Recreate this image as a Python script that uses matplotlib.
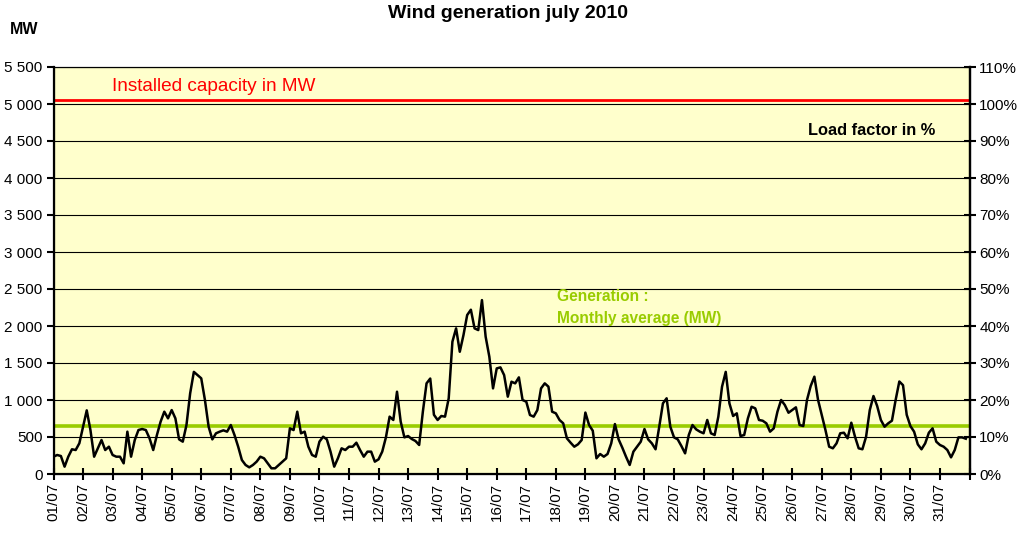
import matplotlib.pyplot as plt
import numpy as np

plt.rcParams["font.family"] = ["Liberation Sans", "DejaVu Sans"]

# wind output in MW, one reading every 3 hours (8 per day)
wind_mw = [
    234, 257, 243, 99, 234, 334, 324, 415,  # 01/07
    639, 860, 594, 234, 347, 459, 324, 369,  # 02/07
    257, 234, 234, 144, 572, 234, 459, 594,  # 03/07
    608, 594, 482, 324, 527, 707, 842, 752,  # 04/07
    864, 752, 468, 437, 662, 1090, 1380, 1337,  # 05/07
    1293, 1000, 639, 468, 550, 572, 590, 572,  # 06/07
    662, 527, 369, 189, 122, 90, 122, 167,  # 07/07
    234, 212, 144, 77, 77, 122, 167, 212,  # 08/07
    617, 594, 842, 550, 572, 369, 257, 234,  # 09/07
    437, 504, 468, 302, 99, 212, 347, 324,  # 10/07
    369, 369, 423, 324, 234, 302, 302, 167,  # 11/07
    198, 302, 495, 775, 730, 1112, 707, 495,  # 12/07
    513, 473, 446, 392, 842, 1225, 1290, 800,  # 13/07
    730, 784, 775, 1023, 1788, 1968, 1652, 1878,  # 14/07
    2148, 2220, 1968, 1945, 2350, 1855, 1585, 1157,  # 15/07
    1427, 1441, 1337, 1045, 1247, 1225, 1306, 1000,  # 16/07
    977, 797, 775, 864, 1157, 1225, 1180, 842,  # 17/07
    820, 730, 685, 482, 423, 369, 401, 459,  # 18/07
    830, 662, 585, 212, 270, 234, 270, 414,  # 19/07
    675, 468, 356, 234, 122, 302, 369, 437,  # 20/07
    608, 468, 414, 334, 639, 955, 1023, 639,  # 21/07
    495, 468, 378, 279, 527, 662, 603, 572,  # 22/07
    550, 730, 550, 527, 775, 1180, 1380, 955,  # 23/07
    784, 820, 513, 527, 752, 909, 887, 730,  # 24/07
    720, 685, 572, 617, 842, 1000, 932, 828,  # 25/07
    864, 901, 662, 648, 1000, 1189, 1315, 1000,  # 26/07
    797, 594, 369, 347, 414, 550, 558, 482,  # 27/07
    693, 504, 347, 334, 504, 864, 1054, 919,  # 28/07
    730, 639, 685, 720, 1000, 1250, 1200, 800,  # 29/07
    648, 572, 401, 334, 414, 558, 617, 437,  # 30/07
    392, 369, 324, 225, 324, 495, 495, 477,  # 31/07
]
step_hours = 3
installed_mw = 5050
monthly_avg_mw = 650
day_labels = [f"{d:02d}/07" for d in range(1, 32)]
mw_ticks = list(range(0, 5501, 500))
pct_ticks = list(range(0, 111, 10))

W, H = 1027, 533
fig = plt.figure(figsize=(W / 100, H / 100), dpi=100)
ax = fig.add_axes([53.5 / W, 1 - 474 / H, 916 / W, 407 / H])
ax.set_facecolor("#FFFFCC")

hours = np.arange(len(wind_mw)) * step_hours
ax.set_xlim(0, 31 * 24)
ax.set_ylim(0, 5500)

ax.yaxis.grid(True, color="black", lw=0.8)
ax.set_axisbelow(True)
ax.axhline(monthly_avg_mw, color="#99CC00", lw=2.6, zorder=2)
ax.axhline(installed_mw, color="#FF0000", lw=2.0, zorder=2)
ax.plot(hours, wind_mw, color="black", lw=1.8, zorder=3)

ax.set_yticks(mw_ticks)
ax.set_yticklabels([f"{v:,}".replace(",", " ") for v in mw_ticks])
ax.set_xticks(np.arange(0, 31 * 24 + 1, 24))
ax.set_xticklabels(day_labels + [""], rotation=90)
ax.tick_params(axis="y", direction="out", length=5, width=1.5, labelsize=11, pad=3)
ax.tick_params(axis="x", direction="inout", length=9, width=1.5, labelsize=11, pad=2)

for side in ("left", "bottom", "right"):
    ax.spines[side].set_linewidth(1.6)
ax.spines["top"].set_linewidth(0.8)

ax2 = ax.twinx()
ax2.set_ylim(0, 110)
ax2.set_yticks(pct_ticks)
ax2.set_yticklabels([f"{p}%" for p in pct_ticks])
ax2.tick_params(direction="inout", length=8, width=1.5, labelsize=11, pad=3)
ax2.spines["right"].set_linewidth(1.6)

ax.text(0.064, 0.951, "Installed capacity in MW", transform=ax.transAxes,
        color="#FF0000", fontsize=13.7, va="center", ha="left")
ax.text(0.963, 0.845, "Load factor in %", transform=ax.transAxes,
        fontsize=11.8, fontweight="bold", va="center", ha="right")
ax.text(0.5497, 0.435, "Generation :", transform=ax.transAxes,
        color="#99CC00", fontsize=11.2, fontweight="bold", va="center", ha="left")
ax.text(0.5497, 0.383, "Monthly average (MW)", transform=ax.transAxes,
        color="#99CC00", fontsize=11.2, fontweight="bold", va="center", ha="left")

fig.text(507.5 / W, 1 - 14 / H, "Wind generation july 2010", fontsize=14,
         fontweight="bold", ha="center", va="center")
fig.text(10 / W, 1 - 30 / H, "MW", fontsize=11.5, fontweight="bold",
         ha="left", va="center")

fig.savefig("out.png", dpi=100)
